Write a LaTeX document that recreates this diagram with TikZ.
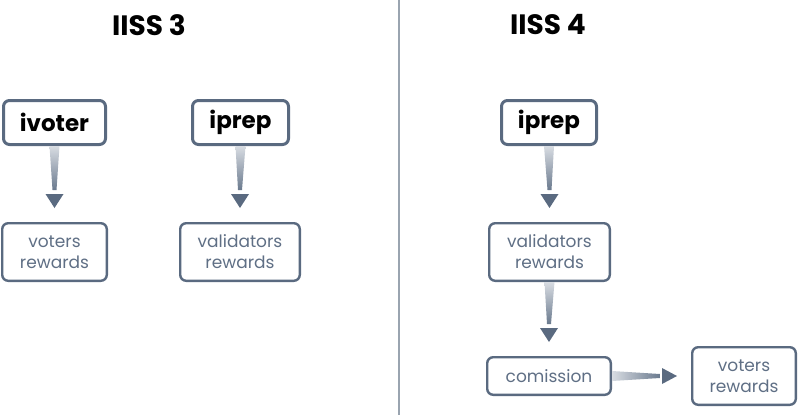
\documentclass[tikz,border=0pt]{standalone}
\usepackage{fontspec}
\setmainfont{Poppins}
\usetikzlibrary{calc}
\definecolor{edge}{HTML}{5A6A80}
\definecolor{labc}{HTML}{5F6F85}
\definecolor{shlight}{HTML}{D8DCE2}
\definecolor{shdark}{HTML}{6A7A8E}
\definecolor{divc}{HTML}{9AA4B0}
\tikzset{
  keybox/.style={draw=edge,line width=3pt,rounded corners=6pt,fill=white,align=center,inner sep=0pt,minimum height=44pt,font=\fontsize{23}{26}\selectfont\bfseries,text=black},
  valbox/.style={draw=edge,line width=2.4pt,rounded corners=6pt,fill=white,align=center,inner sep=0pt,minimum height=57.6pt,font=\fontsize{17}{21}\selectfont,text=labc},
  title/.style={font=\fontsize{28}{32}\selectfont\bfseries,text=black,inner sep=0pt}
}
\newcommand\varrow[2]{%
  \shade[top color=shlight,bottom color=shdark] ($(#1.south)+(-5,0)$) -- ($(#1.south)+(5,0)$) -- ($(#2.north)+(2,-32)$) -- ($(#2.north)+(-2,-32)$) -- cycle;
  \fill[edge] ($(#2.north)+(-9,-28)$) -- ($(#2.north)+(9,-28)$) -- ($(#2.north)+(0,-14)$) -- cycle;}
\newcommand\harrow[2]{%
  \shade[left color=shlight,right color=shdark] ($(#1.east)+(0,-5)$) -- ($(#1.east)+(0,5)$) -- ($(#2.west)+(-31,2)$) -- ($(#2.west)+(-31,-2)$) -- cycle;
  \fill[edge] ($(#2.west)+(-29,-8)$) -- ($(#2.west)+(-29,8)$) -- ($(#2.west)+(-14,0)$) -- cycle;}
\begin{document}
\begin{tikzpicture}[x=1pt,y=-1pt]
\useasboundingbox (0,0) rectangle (799,415);
\node[title] (t3) at (149,25) {IISS 3};
\node[title] (t4) at (548,25) {IISS 4};
\coordinate (dtop) at (399,0);
\coordinate (dbot) at (399,415);
\draw[divc,line width=1.3pt] (dtop) -- (dbot);
\node[keybox,minimum width=102pt] (ivoter) at (54.5,122.5) {ivoter};
\node[keybox,minimum width=96pt] (iprepL) at (240.5,122.5) {iprep};
\node[keybox,minimum width=95pt] (iprepR) at (549,122.5) {iprep};
\node[valbox,minimum width=104.6pt] (votL) at (54.5,252) {voters\\rewards};
\node[valbox,minimum width=119.6pt] (valL) at (240,252) {validators\\rewards};
\node[valbox,minimum width=120.6pt] (valR) at (549.5,252) {validators\\rewards};
\node[valbox,minimum width=123.6pt,minimum height=37.6pt] (com) at (549,376) {comission};
\node[valbox,minimum width=103.6pt] (votR) at (744,376) {voters\\rewards};
\varrow{ivoter}{votL}
\varrow{iprepL}{valL}
\varrow{iprepR}{valR}
\varrow{valR}{com}
\harrow{com}{votR}
\end{tikzpicture}
\end{document}
